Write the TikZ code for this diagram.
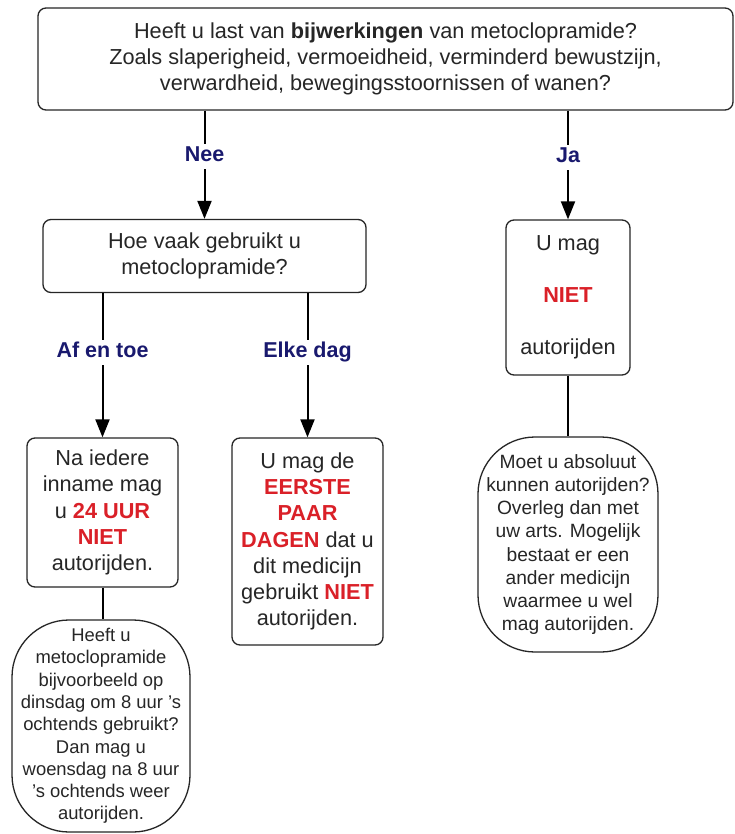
\documentclass[tikz,border=0pt]{standalone}
\usepackage{fontspec}
\setmainfont{Liberation Sans}
\usepackage{xcolor}
\usetikzlibrary{arrows.meta, positioning}
\definecolor{navy}{RGB}{25,25,110}
\definecolor{alarm}{RGB}{218,32,40}
\definecolor{ink}{RGB}{38,38,38}
\newcommand{\rood}[1]{\textcolor{alarm}{\textbf{#1}}}

\begin{document}
\begin{tikzpicture}[x=1pt, y=-1pt,
    qbox/.style={draw=black!85, line width=1.3pt, rounded corners=8pt, align=center, text=ink, inner sep=0pt, font=\fontsize{21.7}{26.2}\selectfont},
    note/.style={draw=black!85, line width=1.3pt, rounded corners=57pt, align=center, text=ink, inner sep=0pt},
    ans/.style={fill=white, text=navy, font=\fontsize{21.5}{26}\selectfont\bfseries, inner sep=3pt, text height=15pt, text depth=4pt},
    flow/.style={line width=2pt, -{Triangle[length=18pt,width=14pt]}}]
                \path[fill=white] (0,0) rectangle (734,834);
                \useasboundingbox (0,0) rectangle (734,834);

                \node[qbox, minimum width=695pt, minimum height=102pt] (vraag) at (385.5,59) {Heeft u last van \textbf{bijwerkingen} van metoclopramide?\\ Zoals slaperigheid, vermoeidheid, verminderd bewustzijn,\\ verwardheid, bewegingsstoornissen of wanen?};
                \node[qbox, minimum width=323pt, minimum height=73pt] (hoe) at (204.5,256) {Hoe vaak gebruikt u\\ metoclopramide?};
                \node[qbox, minimum width=124pt, minimum height=155pt] (nietrijden) at (568,297.5) {U mag\\[26pt] \rood{NIET}\\[26pt] autorijden};
                \node[qbox, minimum width=151pt, minimum height=149pt] (iedere) at (102.5,512.5) {Na iedere\\ inname mag\\ u \rood{24 UUR}\\ \rood{NIET}\\ autorijden.};
                \node[qbox, minimum width=151pt, minimum height=207pt] (dagen) at (307.5,541.5) {U mag de\\ \rood{EERSTE}\\ \rood{PAAR}\\ \rood{DAGEN} dat u\\ dit medicijn\\ gebruikt \rood{NIET}\\ autorijden.};
                \node[note, minimum width=178pt, minimum height=212pt, font=\fontsize{18.4}{22.3}\selectfont] (voorbeeld) at (101,726) {Heeft u\\ metoclopramide\\ bijvoorbeeld op\\ dinsdag om 8 uur 's\\ ochtends gebruikt?\\ Dan mag u\\ woensdag na 8 uur\\ 's ochtends weer\\ autorijden.};
                \node[note, minimum width=180pt, minimum height=215pt, font=\fontsize{19.2}{23.1}\selectfont] (absoluut) at (568,544.5) {Moet u absoluut\\ kunnen autorijden?\\ Overleg dan met\\ uw arts. Mogelijk\\ bestaat er een\\ ander medicijn\\ waarmee u wel\\ mag autorijden.};

                \draw[flow] (vraag.south -| hoe.north) -- node[ans, pos=0.42] {Nee} (hoe.north);
                \draw[flow] (vraag.south -| nietrijden.north) -- node[ans, pos=0.43] {Ja} (nietrijden.north);
                \draw[flow] (hoe.south -| iedere.north) -- node[ans, pos=0.41] {Af en toe} (iedere.north);
                \draw[flow] (hoe.south -| dagen.north) -- node[ans, pos=0.41] {Elke dag} (dagen.north);
                \draw[line width=2pt] (nietrijden.south) -- (absoluut.north);
                \draw[line width=2pt] (iedere.south) -- (iedere.south |- voorbeeld.north);
            \end{tikzpicture}
\end{document}
